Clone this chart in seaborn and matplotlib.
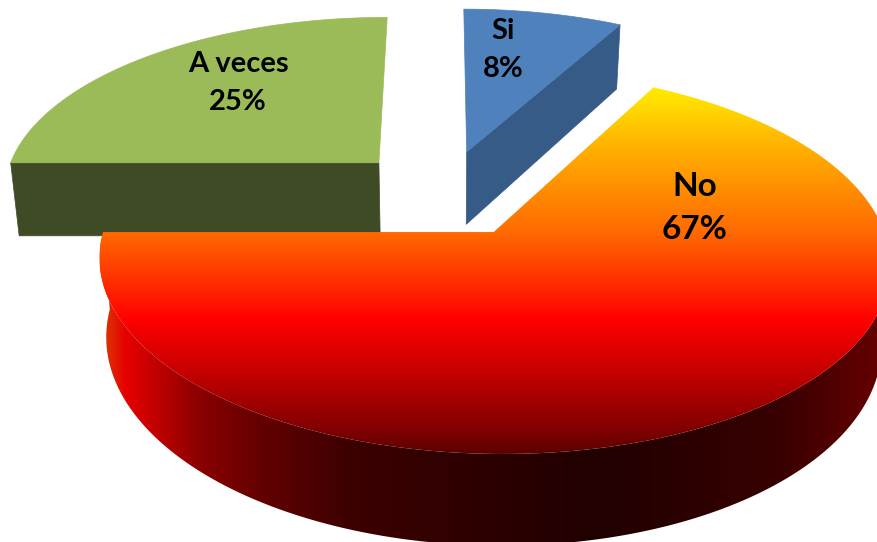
import numpy as np
import matplotlib
matplotlib.use("Agg")
import matplotlib.pyplot as plt
from matplotlib.colors import LinearSegmentedColormap
from matplotlib.path import Path
from matplotlib.patches import PathPatch
import seaborn as sns

categories = ["Si", "No", "A veces"]
values = [8, 67, 25]
explode = [0.25, 0.25, 0.25]

top_colors = {"Si": "#4f81bd", "A veces": "#9bbb59"}
wall_colors = {"Si": "#375b87", "A veces": "#3f4b25"}
label_pos = {"Si": (503, 50, 21), "No": (695, 208, 24), "A veces": (238, 83, 21)}

# camera for the flattened 3d look, in pixels
X0, Y0, RX, RY, PERSP, DEPTH, SHRINK = 444, 193, 378, 175.6, 0.15, 75, 1.02

# gradients, position in pixels of the image -> colour
top_stops = [(85, "#ffee00"), (150, "#ffae00"), (232, "#ff6a00"), (320, "#ff0000"),
             (370, "#c80000"), (430, "#800000"), (455, "#5a0000")]
wall_stops = [(100, "#d84000"), (125, "#e60000"), (200, "#8a0000"), (260, "#640000"), (350, "#3c0000"),
              (600, "#200000"), (780, "#380000"), (878, "#640000")]


def project(x, y, drop=False):
    w = 1 + PERSP * y
    if drop:
        return X0 + RX * x / (w * SHRINK), Y0 - RY * y / w + DEPTH / w
    return X0 + RX * x / w, Y0 - RY * y / w


def wedge_arc(wedge, a, b, n=200):
    t = np.radians(np.linspace(a, b, n))
    return wedge.center[0] + wedge.r * np.cos(t), wedge.center[1] + wedge.r * np.sin(t)


def poly(xs, ys):
    pts = np.column_stack([xs, ys])
    return Path(np.vstack([pts, pts[0]]), closed=True)


def stops_cmap(stops):
    lo, hi = stops[0][0], stops[-1][0]
    return LinearSegmentedColormap.from_list("g", [((p - lo) / (hi - lo), c) for p, c in stops], N=512)


sns.set_theme(style="white")

# the pie itself only gives the angles and exploded centres
tmp_fig, tmp_ax = plt.subplots()
wedges, _ = tmp_ax.pie(values, explode=explode, startangle=90, counterclock=False)
plt.close(tmp_fig)
wedges = dict(zip(categories, wedges))

fig = plt.figure(figsize=(8.78, 5.42), dpi=100)
ax = fig.add_axes([0, 0, 1, 1])

for cat in ["A veces", "Si"]:
    w = wedges[cat]
    cx, cy = w.center
    arc_x, arc_y = wedge_arc(w, w.theta1, w.theta2)
    # the flat cut wall is the side that looks at the viewer
    k = -1 if cat == "A veces" else 0
    sx, sy = project(np.array([cx, arc_x[k]]), np.array([cy, arc_y[k]]))
    bx, by = project(np.array([cx, arc_x[k]]), np.array([cy, arc_y[k]]), drop=True)
    ax.add_patch(PathPatch(poly(np.r_[sx, bx[::-1]], np.r_[sy, by[::-1]]),
                           fc=wall_colors[cat], ec=wall_colors[cat], lw=0.5, zorder=2))
    tx, ty = project(np.r_[cx, arc_x], np.r_[cy, arc_y])
    ax.add_patch(PathPatch(poly(tx, ty), fc=top_colors[cat], ec=top_colors[cat], lw=0.5, zorder=3))

# No slice, wall first
w = wedges["No"]
cx, cy = w.center
rx, ry = wedge_arc(w, 180, 360, 300)
tx, ty = project(rx, ry)
bx, by = project(rx, ry, drop=True)
wall = PathPatch(poly(np.r_[tx, bx[::-1]], np.r_[ty, by[::-1]]), fc="none", ec="none", zorder=4)
ax.add_patch(wall)
im = ax.imshow(np.linspace(0, 1, 512)[None, :], cmap=stops_cmap(wall_stops), aspect="auto",
               extent=(wall_stops[0][0], wall_stops[-1][0], 542, 200),
               vmin=0, vmax=1, zorder=4, interpolation="bilinear")
im.set_clip_path(wall)

arc_x, arc_y = wedge_arc(w, w.theta1, w.theta2, 400)
tx, ty = project(np.r_[cx, arc_x], np.r_[cy, arc_y])
face = PathPatch(poly(tx, ty), fc="none", ec="none", zorder=5)
ax.add_patch(face)
im2 = ax.imshow(np.linspace(0, 1, 512)[:, None], cmap=stops_cmap(top_stops), aspect="auto",
                extent=(0, 878, top_stops[-1][0], top_stops[0][0]),
                origin="upper", vmin=0, vmax=1, zorder=5, interpolation="bilinear")
im2.set_clip_path(face)

for cat, val in zip(categories, values):
    x, y, size = label_pos[cat]
    ax.text(x, y, f"{cat}\n{val}%", ha="center", va="center", fontsize=size, family="Lato",
            fontweight="bold", color="black", linespacing=1.6, zorder=6)

ax.set_xlim(0, 878)
ax.set_ylim(542, 0)
ax.axis("off")
fig.savefig("out.png", dpi=100, facecolor="white")
